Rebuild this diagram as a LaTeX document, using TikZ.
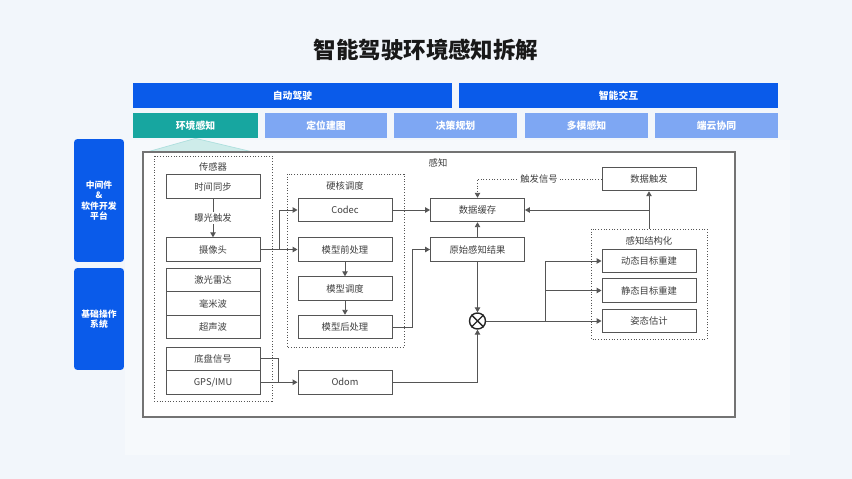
\documentclass[tikz,border=0pt]{standalone}
\usepackage{fontspec}
\setmainfont{Noto Sans CJK SC}
\usetikzlibrary{arrows.meta}
\definecolor{deepblue}{HTML}{0A5BEA}
\definecolor{paleblue}{HTML}{7EA7F3}
\definecolor{tealbar}{HTML}{17A6A0}
\definecolor{tealpale}{HTML}{C4E9E6}
\definecolor{bgcol}{HTML}{F2F6FB}
\definecolor{linecol}{HTML}{555555}

\begin{document}
\begin{tikzpicture}[x=0.02cm, y=-0.02cm,
  box/.style={draw=linecol, fill=white, line width=0.55pt, minimum width=1.88cm,
    minimum height=0.47cm, inner sep=0pt, text=black!75,
    font=\fontsize{5.3}{6}\selectfont},
  bar/.style={fill=deepblue, text=white, minimum height=0.5cm, inner sep=0pt,
    font=\fontsize{5.6}{6}\selectfont\bfseries},
  subbar/.style={bar, fill=paleblue, minimum width=2.46cm},
  sidebox/.style={fill=deepblue, text=white, rounded corners=2pt, minimum width=1cm,
    inner sep=0pt, align=center, font=\fontsize{5}{5.9}\selectfont\bfseries},
  grp/.style={draw=linecol, densely dotted, line width=0.55pt},
  wire/.style={draw=linecol, line width=0.55pt},
  arr/.style={wire, -{Triangle[length=1mm,width=1.1mm]}},
  lbl/.style={text=black!75, inner sep=1pt, font=\fontsize{5.3}{6}\selectfont}]

\fill[bgcol] (0,0) rectangle (852,479);
\fill[white, opacity=0.35] (125,140) rectangle (790,455);

\node[font=\fontsize{12.8}{14}\selectfont\bfseries, text=black!90] (title) at (426,50) {智能驾驶环境感知拆解};

\node[bar, minimum width=6.38cm] (ad) at (292.5,95.5) {自动驾驶};
\node[bar, minimum width=6.38cm] (hmi) at (618.5,95.5) {智能交互};
\node[subbar, fill=tealbar, minimum width=2.5cm] (env) at (195.5,125.5) {环境感知};
\node[subbar] (loc) at (326,125.5) {定位建图};
\node[subbar] (plan) at (455.5,125.5) {决策规划};
\node[subbar] (mm) at (586.5,125.5) {多模感知};
\node[subbar] (cloud) at (716.5,125.5) {端云协同};

\node[sidebox, minimum height=2.46cm] (mid) at (99,200.5) {中间件\\\&\\软件开发\\平台};
\node[sidebox, minimum height=2.04cm] (os) at (99,319) {基础操作\\系统};

\filldraw[fill=tealpale, draw=tealbar!40, opacity=0.8] (env.south) -- (147,152) -- (253,152) -- cycle;
\draw[draw=black!55, line width=0.7pt, fill=white] (143,152) rectangle (735,417);
\node[lbl] (perc) at (438,163) {感知};

\draw[grp] (154,156) rectangle (272,401);
\node[lbl] (sens) at (213,167) {传感器};
\node[box] (sync) at (213,186.5) {时间同步};
\node[box] (cam) at (213,249.5) {摄像头};
\node[box] (lidar) at (213,280) {激光雷达};
\node[box] (mmw) at (213,303.5) {毫米波};
\node[box] (us) at (213,327) {超声波};
\node[box] (chassis) at (213,358.75) {底盘信号};
\node[box] (gps) at (213,382.25) {GPS/IMU};

\draw[grp] (287,174) rectangle (404,347);
\node[lbl] (hw) at (345,186) {硬核调度};
\node[box] (codec) at (345,210) {Codec};
\node[box] (pre) at (345,249.5) {模型前处理};
\node[box] (sched) at (345,288.5) {模型调度};
\node[box] (post) at (345,327) {模型后处理};
\node[box] (odom) at (345,382.25) {Odom};

\node[box] (cache) at (477.5,210) {数据缓存};
\node[box] (raw) at (477.5,249.5) {原始感知结果};
\node[draw=black!85, line width=0.8pt, circle, minimum size=0.32cm, inner sep=0pt] (mix) at (477.5,321) {};
\draw[black!85, line width=0.8pt] (mix.north west) -- (mix.south east) (mix.north east) -- (mix.south west);

\node[box] (trig) at (649,179) {数据触发};
\draw[grp] (591,229) rectangle (707,339);
\node[lbl] (struct) at (649,241) {感知结构化};
\node[box] (dyn) at (649,261) {动态目标重建};
\node[box] (stat) at (649,290.5) {静态目标重建};
\node[box] (pose) at (649,321) {姿态估计};

\coordinate (j1) at (279,249.5);
\coordinate (j2) at (278,382.25);
\coordinate (j3) at (545,321);
\coordinate (j4) at (649,210);
\coordinate (stop) at (649,229);

\draw[arr] (sync) -- (cam);
\node[lbl, fill=white] (expo) at (213,218) {曝光触发};
\draw[arr] (cam.east) -- (pre.west);
\draw[arr] (j1) |- (codec.west);
\draw[arr] (pre) -- (sched);
\draw[arr] (sched) -- (post);
\draw[arr] (codec.east) -- (cache.west);
\draw[arr] (post.east) -- ++(20,0) |- (raw.west);
\draw[arr] (raw) -- (cache);
\draw[arr] (raw) -- (mix);
\draw[wire] (chassis.east) -| (j2);
\draw[arr] (gps.east) -- (odom.west);
\draw[arr] (odom.east) -| (mix.south);
\draw[arr] (mix.east) -- (pose.west);
\draw[arr] (j3) |- (dyn.west);
\draw[arr] (j3) |- (stat.west);
\draw[arr] (stop) -- (trig.south);
\draw[arr] (j4) -- (cache.east);
\draw[arr, densely dotted] (trig.west) -| (cache.north);
\node[lbl, fill=white] (sig) at (539,179) {触发信号};
\end{tikzpicture}
\end{document}
